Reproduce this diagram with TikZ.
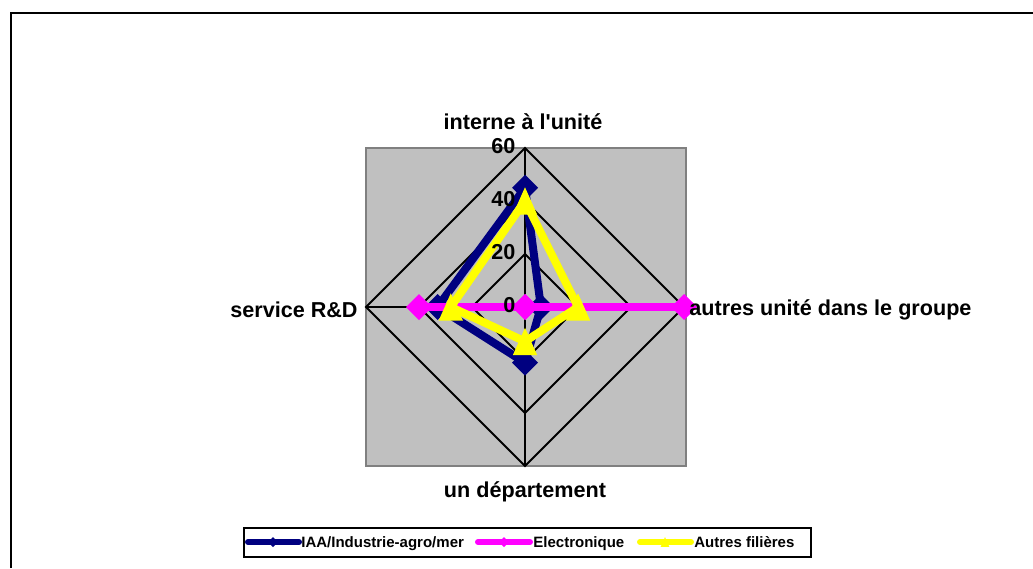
\documentclass[tikz,border=0pt]{standalone}
\usepackage{fontspec}
\setmainfont{Liberation Sans}
\usetikzlibrary{shapes.geometric}
\definecolor{iaa}{RGB}{0,0,128}
\definecolor{elec}{RGB}{255,0,255}
\definecolor{autres}{RGB}{255,255,0}
\definecolor{fond}{RGB}{192,192,192}
\definecolor{bord}{RGB}{128,128,128}
\newcommand{\apos}{\XeTeXglyph\XeTeXcharglyph"0027\relax}
\newcommand{\losangenode}[2]{node[diamond, minimum size=#2, inner sep=0pt, outer sep=0pt, fill=#1] {}}
\newcommand{\trianglenode}[1]{node[regular polygon, regular polygon sides=3, minimum size=#1, inner sep=0pt, outer sep=0pt, fill=autres, yshift=-.16*#1, yscale=1.3, transform shape] {}}

\begin{document}
\begin{tikzpicture}[x=.5pt, y=-.5pt, font=\bfseries\fontsize{10.8}{12}\selectfont,
    serie/.style={line width=4pt},
    grille/.style={line width=.9pt},
    legende/.style={line width=3pt, line cap=round}]
    \useasboundingbox (0,0) rectangle (1033,568);

    % Cadre
    \draw [line width=1.3pt] (11,568) -- (11,13) -- (1033,13);

    % Zone de traçage
    \draw [fill=fond, draw=bord, line width=1pt] (366,148) rectangle (686,466);

    \begin{scope}[shift={(525,307)}, x=1.325pt, y=1.325pt]
        % Grille
        \foreach \r in {20,40,60}
            \draw [grille] (0,\r) -- (\r,0) -- (0,-\r) -- (-\r,0) -- cycle;
        \draw [grille] (0,60) -- (0,-60) (-60,0) -- (60,0);

        % IAA/Industrie-agro/mer
        \draw [serie, iaa]
            (0,45) \losangenode{iaa}{13pt} --
            (6,0) \losangenode{iaa}{13pt} --
            (0,-21) \losangenode{iaa}{13pt} --
            (-33,0) \losangenode{iaa}{13pt} -- cycle;

        % Electronique
        \draw [serie, elec]
            (0,0) \losangenode{elec}{13pt} --
            (60,0) \losangenode{elec}{13pt} --
            (0,0) \losangenode{elec}{13pt} --
            (-40,0) \losangenode{elec}{13pt} -- cycle;

        % Autres filières
        \draw [serie, autres]
            (0,40) \trianglenode{14pt} --
            (20,0) \trianglenode{14pt} --
            (0,-13) \trianglenode{14pt} --
            (-28,0) \trianglenode{14pt} -- cycle;

        % Graduations
        \foreach \r in {0,20,40,60}
            \node [anchor=east, inner sep=0pt] (val\r) at (-3.5,\r+.8) {\r};
    \end{scope}

    % Noms des axes
    \node (haut) at (523,122) {interne à l\apos unité};
    \node [anchor=east, inner sep=0pt] (gauche) at (358,310) {service R\&D};
    \node [anchor=west, inner sep=0pt] (droite) at (689,310) {autres unité dans le groupe};
    \node (bas) at (525,492) {un département};

    % Légende
    \draw [line width=1pt] (244,528) rectangle (811,557);
    \draw [legende, iaa] (248,542) -- (299,542) (273,542) \losangenode{iaa}{5pt};
    \draw [legende, elec] (478,542) -- (530,542) (504,542) \losangenode{elec}{5pt};
    \draw [legende, autres] (640,542) -- (691,542) (665,542) \trianglenode{5pt};
    \begin{scope}[font=\bfseries\fontsize{7.5}{9}\selectfont]
        \node [anchor=base west, inner sep=0pt] (leg1) at (301,547) {IAA/Industrie-agro/mer};
        \node [anchor=base west, inner sep=0pt] (leg2) at (533,547) {Electronique};
        \node [anchor=base west, inner sep=0pt] (leg3) at (694,547) {Autres filières};
    \end{scope}
\end{tikzpicture}
\end{document}
